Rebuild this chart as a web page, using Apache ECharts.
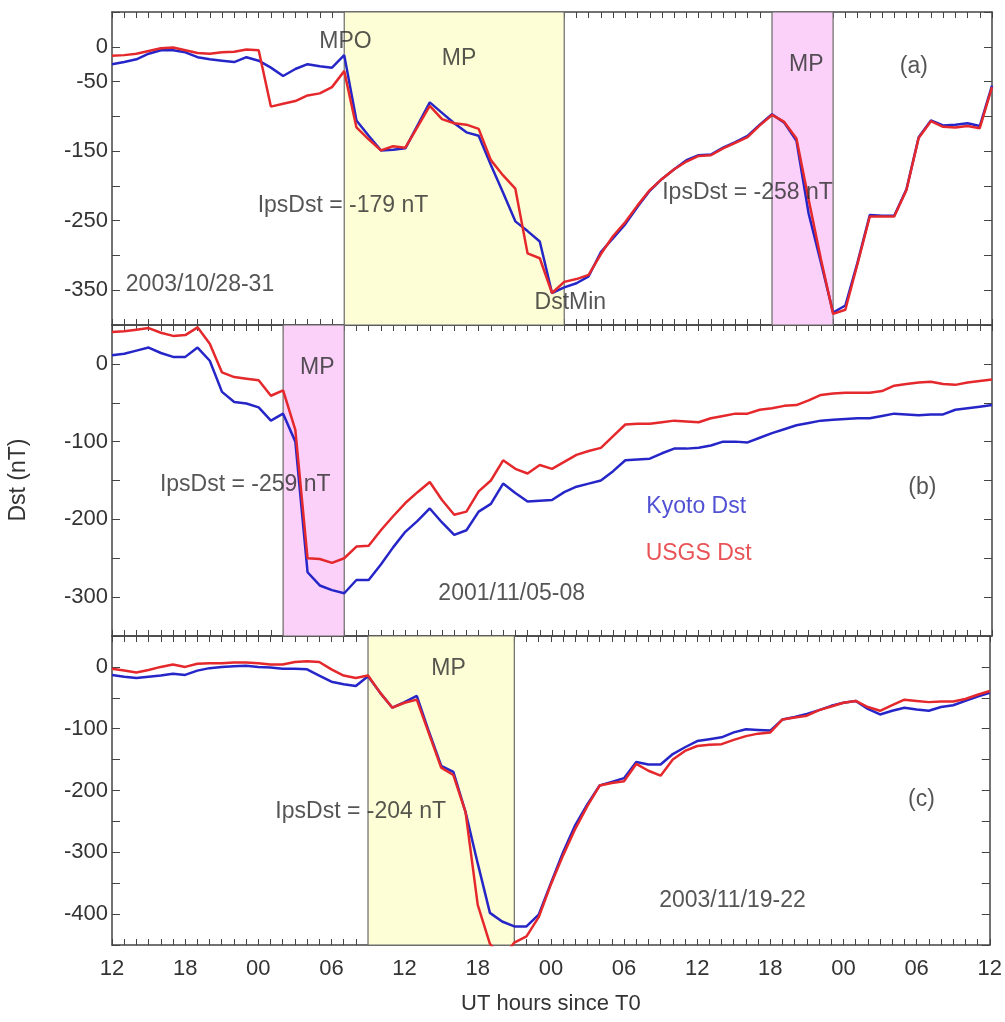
<!DOCTYPE html>
<html style="height: 100%">

<head>
    <meta charset="utf-8">
    <title>Kyoto vs USGS Dst</title>
</head>

<body style="height: 100%; margin: 0; background: #ffffff">
    <div id="container" style="width: 1005px; height: 1022px"></div>
    <script src="https://cdn.jsdelivr.net/npm/echarts@6/dist/echarts.min.js"></script>
    <script type="text/javascript">
        // hourly values, hour 0 = 12 UT of the first day
        var kyotoA = [-25, -22, -18, -10, -5, -5, -8, -15, -18, -20, -22, -15, -20, -30, -42, -32, -25, -28, -30, -12,
            -106, -128, -149, -148, -146, -113, -80, -95, -110, -123, -128, -170, -210, -251, -265, -280, -354, -346, -340, -330,
            -295, -275, -255, -230, -207, -190, -176, -163, -156, -155, -145, -137, -128, -112, -97, -109, -135, -240, -310, -382,
            -372, -310, -242, -243, -243, -205, -130, -106, -113, -112, -110, -114, -56];
        var usgsA = [-13, -12, -10, -6, -2, -1, -5, -9, -10, -8, -7, -4, -5, -86, -82, -78, -70, -67, -58, -35,
            -116, -133, -149, -143, -145, -115, -85, -104, -110, -112, -118, -163, -185, -204, -297, -304, -354, -338, -334, -328,
            -298, -272, -252, -228, -206, -190, -176, -165, -157, -156, -146, -138, -130, -113, -98, -108, -132, -220, -305, -384,
            -378, -312, -244, -244, -244, -206, -131, -107, -115, -116, -114, -117, -58];

        var kyotoB = [11, 13, 17, 21, 14, 9, 9, 21, 4, -36, -49, -51, -56, -73, -64, -100, -268, -285, -291, -295,
            -278, -278, -258, -236, -216, -202, -186, -204, -220, -214, -190, -180, -154, -166, -177, -176, -175, -165, -158, -154,
            -150, -138, -124, -123, -122, -115, -109, -109, -108, -105, -100, -100, -101, -95, -89, -84, -79, -76, -73, -72,
            -71, -70, -70, -67, -64, -65, -66, -65, -65, -59, -57, -55, -53];
        var usgsB = [41, 42, 44, 46, 40, 36, 37, 47, 26, -11, -17, -19, -21, -41, -34, -85, -250, -251, -256, -250,
            -235, -234, -214, -196, -179, -165, -152, -175, -194, -190, -164, -150, -124, -135, -141, -130, -135, -126, -117, -112,
            -108, -93, -78, -77, -77, -75, -73, -74, -75, -70, -67, -64, -64, -59, -57, -54, -53, -47, -40, -38,
            -37, -37, -37, -35, -28, -26, -24, -23, -26, -27, -24, -22, -20];

        var kyotoC = [-13, -16, -18, -16, -14, -11, -13, -6, -2, 0, 1, 2, 0, -1, -3, -3, -4, -14, -24, -28,
            -31, -15, -42, -66, -57, -47, -105, -160, -170, -235, -318, -398, -412, -420, -420, -401, -350, -300, -256, -222,
            -192, -186, -180, -154, -158, -158, -141, -130, -120, -117, -114, -106, -101, -102, -103, -85, -81, -76, -70, -63,
            -58, -55, -68, -77, -71, -66, -69, -71, -65, -62, -55, -48, -42];
        var usgsC = [-3, -6, -9, -5, 0, 4, 0, 5, 6, 6, 7, 7, 6, 4, 4, 8, 9, 8, -4, -14,
            -18, -14, -42, -66, -58, -53, -108, -163, -175, -235, -385, -448, -472, -446, -436, -405, -352, -305, -262, -225,
            -192, -188, -185, -157, -168, -176, -150, -136, -128, -126, -125, -118, -112, -108, -106, -85, -82, -79, -70, -64,
            -58, -55, -65, -71, -62, -53, -55, -57, -56, -56, -52, -45, -39];

        var xTickLabels = ['12', '18', '00', '06', '12', '18', '00', '06', '12', '18', '00', '06', '12'];
        var yLabelsA = [0, -50, -150, -250, -350];
        var yLabelsB = [0, -100, -200, -300];
        var yLabelsC = [0, -100, -200, -300, -400];

        // main phase intervals [start hour, end hour]
        var shadeA = [[19, 37], [54, 59]];
        var shadeB = [[14, 19]];
        var shadeC = [[21, 33]];

        // text notes [text, hour, nT]
        var notesA = [['MPO', 19.1, 7], ['MP', 28.4, -17], ['IpsDst = -179 nT', 18.9, -229], ['DstMin', 37.5, -368],
            ['IpsDst = -258 nT', 52, -210], ['MP', 56.8, -26], ['(a)', 65.6, -28], ['2003/10/28-31', 7.2, -342]];
        var notesB = [['MP', 16.8, -5], ['IpsDst = -259 nT', 10.9, -155], ['(b)', 66.3, -159], ['2001/11/05-08', 32.7, -296]];
        var notesC = [['MP', 27.6, -3], ['IpsDst = -204 nT', 20.4, -235], ['(c)', 66.4, -215], ['2003/11/19-22', 50.9, -378]];
        var legendNotes = [['Kyoto Dst', 47.8, -184], ['USGS Dst', 48.0, -244]];

        var FONT = "'Liberation Sans', Arial, sans-serif";
        var BLUE = '#2626c8';
        var RED = '#e4282c';
        var AXIS = '#444444';
        var YELLOW = '#fefed6';
        var PINK = '#fbd1f9';

        var panels = [
            { top: 12, height: 313, min: -400, max: 50, labels: yLabelsA, kyoto: kyotoA, usgs: usgsA, shade: shadeA, colors: [YELLOW, PINK], notes: notesA },
            { top: 325, height: 311, min: -350, max: 50, labels: yLabelsB, kyoto: kyotoB, usgs: usgsB, shade: shadeB, colors: [PINK], notes: notesB },
            { top: 636, height: 309, min: -450, max: 50, labels: yLabelsC, kyoto: kyotoC, usgs: usgsC, shade: shadeC, colors: [YELLOW], notes: notesC }
        ];

        function pairs(arr) {
            return arr.map(function (v, i) { return [i, v]; });
        }

        var grids = [], xAxes = [], yAxes = [], series = [];

        panels.forEach(function (p, i) {
            var last = i === panels.length - 1;
            grids.push({ left: 112, right: 13, top: p.top, height: p.height });

            ['bottom', 'top'].forEach(function (pos) {
                var showLab = last && pos === 'bottom';
                xAxes.push({
                    type: 'value', gridIndex: i, position: pos, min: 0, max: 72, interval: 6,
                    axisLine: { onZero: false, lineStyle: { color: AXIS, width: 1.5 } },
                    axisTick: { inside: true, length: 6, lineStyle: { color: AXIS, width: 1 } },
                    minorTick: { show: true, splitNumber: 6, length: 6, lineStyle: { color: AXIS, width: 1 } },
                    splitLine: { show: false },
                    axisLabel: {
                        show: showLab, margin: 13, fontFamily: FONT, fontSize: 22, color: '#333',
                        formatter: function (v, idx) { return xTickLabels[idx]; }
                    },
                    name: showLab ? 'UT hours since T0' : '',
                    nameLocation: 'middle', nameGap: 48,
                    nameTextStyle: { fontFamily: FONT, fontSize: 22, color: '#333' }
                });
            });

            ['left', 'right'].forEach(function (pos) {
                yAxes.push({
                    type: 'value', gridIndex: i, position: pos, min: p.min, max: p.max, interval: 50,
                    axisLine: { show: true, onZero: false, lineStyle: { color: AXIS, width: 1.5 } },
                    axisTick: { inside: true, length: 8, lineStyle: { color: AXIS, width: 1 } },
                    splitLine: { show: false },
                    axisLabel: {
                        show: pos === 'left', margin: 4, fontFamily: FONT, fontSize: 22, color: '#333',
                        formatter: function (v) { return p.labels.indexOf(v) >= 0 ? String(v) : ''; }
                    }
                });
            });

            // shaded main phase
            series.push({
                type: 'line', xAxisIndex: 2 * i, yAxisIndex: 2 * i, data: [], z: 1, silent: true,
                markArea: {
                    silent: true,
                    data: p.shade.map(function (s, k) {
                        return [{ xAxis: s[0], itemStyle: { color: p.colors[k], borderColor: '#6a6a6a', borderWidth: 1.2 } }, { xAxis: s[1] }];
                    })
                }
            });

            series.push({
                name: 'Kyoto Dst', type: 'line', xAxisIndex: 2 * i, yAxisIndex: 2 * i, data: pairs(p.kyoto),
                showSymbol: false, z: 2, clip: true, lineStyle: { color: BLUE, width: 2.5 }, itemStyle: { color: BLUE }
            });
            series.push({
                name: 'USGS Dst', type: 'line', xAxisIndex: 2 * i, yAxisIndex: 2 * i, data: pairs(p.usgs),
                showSymbol: false, z: 3, clip: true, lineStyle: { color: RED, width: 2.5 }, itemStyle: { color: RED }
            });

            series.push({
                type: 'scatter', xAxisIndex: 2 * i, yAxisIndex: 2 * i, z: 5, silent: true,
                symbolSize: 1, itemStyle: { color: 'rgba(0,0,0,0)' },
                data: p.notes.map(function (n) { return { name: n[0], value: [n[1], n[2]] }; }),
                label: { show: true, position: 'inside', formatter: '{b}', fontFamily: FONT, fontSize: 23, color: '#2a2a2a' }
            });

            if (i === 1) {
                legendNotes.forEach(function (n, k) {
                    series.push({
                        type: 'scatter', xAxisIndex: 2, yAxisIndex: 2, z: 5, silent: true,
                        symbolSize: 1, itemStyle: { color: 'rgba(0,0,0,0)' },
                        data: [{ name: n[0], value: [n[1], n[2]] }],
                        label: { show: true, position: 'inside', formatter: '{b}', fontFamily: FONT, fontSize: 23, color: k === 0 ? BLUE : RED }
                    });
                });
            }
        });

        var myChart = echarts.init(document.getElementById('container'));
        myChart.setOption({
            animation: false,
            backgroundColor: '#ffffff',
            grid: grids,
            xAxis: xAxes,
            yAxis: yAxes,
            series: series,
            graphic: [{
                type: 'text', x: 19, y: 480, rotation: Math.PI / 2,
                style: { text: 'Dst (nT)', fontFamily: FONT, fontSize: 23, fill: '#333', align: 'center', verticalAlign: 'middle' }
            }]
        });
    </script>
</body>

</html>
